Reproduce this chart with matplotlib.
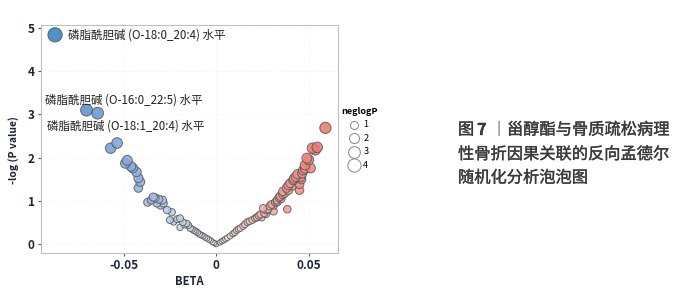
import matplotlib
matplotlib.use('Agg')
import matplotlib.pyplot as plt
import matplotlib.patheffects as pe
import numpy as np
from matplotlib.colors import LinearSegmentedColormap, TwoSlopeNorm

plt.rcParams['font.family'] = ['Noto Sans CJK SC', 'DejaVu Sans']

# left arm of the V (negative effect)
beta_neg = [-0.087, -0.070, -0.064, -0.057, -0.0535, -0.049, -0.048, -0.046,
            -0.045, -0.043, -0.042, -0.041, -0.042, -0.037, -0.035, -0.034,
            -0.033, -0.031, -0.029, -0.032, -0.0285, -0.030, -0.0265, -0.024,
            -0.025, -0.023, -0.021, -0.0195, -0.018, -0.0195, -0.017, -0.016,
            -0.015, -0.014, -0.013, -0.012, -0.011, -0.010, -0.009, -0.008,
            -0.007, -0.006, -0.005, -0.004, -0.003, -0.002, -0.001]
logp_neg = [4.84, 3.10, 3.03, 2.22, 2.34, 1.87, 1.94, 1.80, 1.76, 1.67, 1.53,
            1.44, 1.30, 0.97, 1.02, 1.09, 1.07, 1.04, 1.02, 0.95, 0.95, 0.90,
            0.79, 0.74, 0.56, 0.52, 0.58, 0.60, 0.51, 0.39, 0.45, 0.48, 0.44,
            0.37, 0.35, 0.32, 0.30, 0.27, 0.23, 0.21, 0.19, 0.16, 0.14, 0.11,
            0.09, 0.05, 0.03]

# right arm (positive effect)
beta_pos = [0.000, 0.002, 0.003, 0.004, 0.005, 0.006, 0.0075, 0.009, 0.010,
            0.011, 0.012, 0.013, 0.0145, 0.0155, 0.0168, 0.018, 0.0195, 0.021,
            0.022, 0.023, 0.024, 0.0245, 0.0254, 0.026, 0.027, 0.028, 0.029,
            0.030, 0.031, 0.031, 0.032, 0.033, 0.034, 0.0346, 0.035, 0.036,
            0.037, 0.038, 0.0384, 0.039, 0.040, 0.041, 0.0416, 0.042, 0.043,
            0.044, 0.045, 0.045, 0.0455, 0.0465, 0.047, 0.048, 0.048, 0.049,
            0.050, 0.051, 0.052, 0.0535, 0.0546, 0.059, 0.036, 0.039, 0.046,
            0.033, 0.027]
logp_pos = [0.00, 0.04, 0.07, 0.09, 0.12, 0.15, 0.19, 0.24, 0.27, 0.32, 0.35,
            0.37, 0.42, 0.46, 0.51, 0.53, 0.56, 0.60, 0.62, 0.66, 0.69, 0.62,
            0.83, 0.72, 0.79, 0.81, 0.88, 0.92, 0.90, 0.76, 0.97, 1.02, 1.08,
            1.11, 1.05, 1.15, 1.18, 1.30, 0.81, 1.25, 1.41, 1.35, 1.48, 1.52,
            1.56, 1.62, 1.39, 1.25, 1.55, 1.64, 1.71, 1.83, 1.75, 1.99, 1.95,
            1.76, 2.22, 2.18, 2.24, 2.69, 1.22, 1.36, 1.50, 0.98, 0.70]

labels = ['磷脂酰胆碱 (O-18:0_20:4) 水平',
          '磷脂酰胆碱 (O-16:0_22:5) 水平',
          '磷脂酰胆碱 (O-18:1_20:4) 水平']
legend_vals = [1, 2, 3, 4]
caption_head = ['图', '7', '丨', '甾醇酯与骨质疏松病理']
caption_rest = '性骨折因果关联的反向孟德尔\n随机化分析泡泡图'


def bubble_size(v):
    return 14 + 19 * np.asarray(v)


beta = np.array(beta_neg + beta_pos)
logp = np.array(logp_neg + logp_pos)
order = np.argsort(logp)

cmap = LinearSegmentedColormap.from_list(
    'bw', ['#2f7fc0', '#8fb0e0', '#eeeeee', '#f4a49c', '#e86a60'])
norm = TwoSlopeNorm(vmin=-0.087, vcenter=0, vmax=0.065)

fig = plt.figure(figsize=(6.9, 3.0), dpi=100)
ax = fig.add_axes([0.0594, 0.157, 0.431, 0.76])

ax.scatter(beta[order], logp[order], s=bubble_size(logp[order]),
           c=beta[order], cmap=cmap, norm=norm, alpha=0.85,
           edgecolors='#555555', linewidths=0.7, zorder=3)

ax.set_xlim(-0.0946, 0.066)
ax.set_ylim(-0.2, 5.07)
ax.set_xticks([-0.05, 0, 0.05])
ax.set_xticklabels(['-0.05', '0', '0.05'])
ax.set_yticks([0, 1, 2, 3, 4, 5])
ax.grid(True, color='#eeeeee', lw=0.6, ls=':')
for sp in ax.spines.values():
    sp.set_color('#c0c0c0')
ax.tick_params(length=2.5, width=0.8, color='#555555', labelsize=8.5,
               labelcolor='#1e2535', pad=2)
for t in ax.get_xticklabels() + ax.get_yticklabels():
    t.set_fontweight('bold')
ax.set_xlabel('BETA', fontsize=8, fontweight='bold', color='#1e2535',
              labelpad=2)
ax.set_ylabel('-log (P value)', fontsize=7.5, fontweight='bold',
              color='#1e2535')
ax.yaxis.set_label_coords(-0.075, 0.45)

ax.text(-0.0800, 4.84, labels[0], fontsize=8.3, va='center', color='#222222')
ax.text(-0.0922, 3.34, labels[1], fontsize=8.3, va='center', color='#222222')
ax.text(-0.0916, 2.74, labels[2], fontsize=8.3, va='center', color='#222222')

handles = [ax.scatter([], [], s=bubble_size(v), facecolor='white',
                      edgecolor='#888888', linewidths=0.7)
           for v in legend_vals]
leg = ax.legend(handles, [str(v) for v in legend_vals], title='neglogP',
                loc='upper left', bbox_to_anchor=(0.99, 0.665), frameon=False,
                fontsize=6.5, title_fontsize=6.5, handletextpad=0.5,
                labelspacing=0.5, borderaxespad=0.2, handlelength=1.0)
leg.get_title().set_fontstyle('italic')
leg.get_title().set_fontweight('bold')

# caption, first line in pieces so the figure number can be bold
thick = [pe.withStroke(linewidth=0.25, foreground='#3a3a3a')]
cap_kw = dict(fontsize=11.7, va='center', ha='left', color='#3a3a3a',
              path_effects=thick)
fig.text(458 / 690, 1 - 130 / 300, caption_head[0], **cap_kw)
fig.text(477 / 690, 1 - 130 / 300, caption_head[1],
         **{**cap_kw, 'fontweight': 'bold'})
fig.text(491 / 690, 1 - 130 / 300, caption_head[2],
         **{**cap_kw, 'color': '#888888', 'path_effects': None})
fig.text(507 / 690, 1 - 130 / 300, caption_head[3], **cap_kw)
fig.text(458 / 690, 1 - 146 / 300, caption_rest, linespacing=1.5,
         **{**cap_kw, 'va': 'top'})

fig.savefig('out.png', dpi=100)
